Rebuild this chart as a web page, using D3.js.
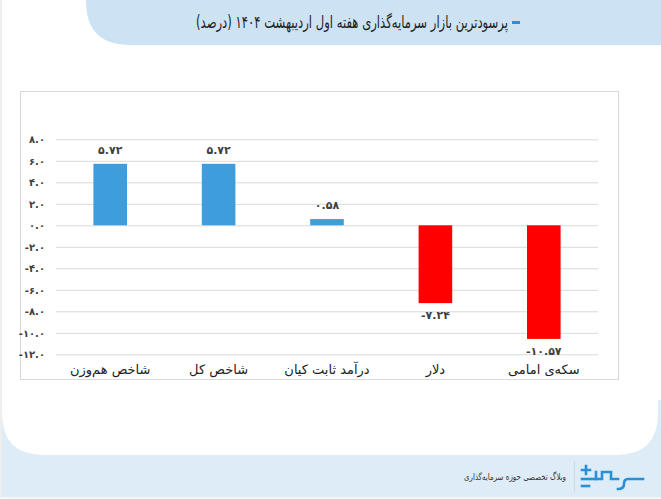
<!DOCTYPE html>
<html><head><meta charset="utf-8">
<script src="https://cdn.jsdelivr.net/npm/d3@7"></script>
<style>
html,body{margin:0;padding:0;background:#fff;}
svg{display:block;}
text{font-family:"DejaVu Sans","Noto Sans",sans-serif;}
</style></head>
<body>
<svg id="c" width="661" height="499"></svg>
<script>
const categories = ["شاخص هم‌وزن", "شاخص کل", "درآمد ثابت کیان", "دلار", "سکه‌ی امامی"];
const values = [5.72, 5.72, 0.58, -7.24, -10.57];
const yTicks = [8, 6, 4, 2, 0, -2, -4, -6, -8, -10, -12];
const title = "پرسودترین بازار سرمایه‌گذاری هفته اول اردیبهشت ۱۴۰۴ (درصد)";
const footerText = "وبلاگ تخصصی حوزه سرمایه‌گذاری";

const fa = s => String(s).replace(/[\u2212]/g,"-").replace(/[0-9]/g, d => "۰۱۲۳۴۵۶۷۸۹"[+d]);
const svg = d3.select("#c");

// footer background + white card
svg.append("rect").attr("x",0).attr("y",400).attr("width",661).attr("height",97).attr("fill","#deecf8");
svg.append("path").attr("fill","#fff")
  .attr("d","M2,0 H658 V413 Q658,455 616,455 H44 Q2,455 2,413 Z");
svg.append("rect").attr("x",0).attr("y",0).attr("width",2).attr("height",497).attr("fill","#eeeeee");
svg.append("rect").attr("x",0).attr("y",497).attr("width",661).attr("height",2).attr("fill","#f6f6f6");

// title band
svg.append("path").attr("fill","#cde3f4")
  .attr("d","M86,0 H661 V45 H130 Q86,45 86,1 Z");
svg.append("rect").attr("x",512).attr("y",21).attr("width",8).attr("height",3).attr("fill","#2b8fd6");
svg.append("text").attr("x",508).attr("y",28)
  .attr("direction","rtl").style("unicode-bidi","embed")
  .attr("text-anchor","start").attr("font-size",17).attr("fill","#222")
  .attr("textLength",312).attr("lengthAdjust","spacingAndGlyphs")
  .text(title);

// chart frame
svg.append("rect").attr("x",20.5).attr("y",91.5).attr("width",598).attr("height",288)
  .attr("fill","#fff").attr("stroke","#d9d9d9");

const x = d3.scaleBand().domain(categories).range([56,598]).paddingInner(0.69).paddingOuter(0.345);
const y = d3.scaleLinear().domain([-12,8]).range([354.3,139.3]);

// gridlines
const gAxis = d3.axisLeft(y).tickValues(yTicks).tickSize(-(598-56)).tickFormat(d => fa(d3.format(".1f")(d)));
const ga = svg.append("g").attr("transform","translate(56,0)").call(gAxis);
ga.select(".domain").remove();
ga.selectAll(".tick line").attr("stroke","#d9d9d9").attr("stroke-width",1);
ga.selectAll(".tick text").attr("x",-11).attr("font-size",10).attr("font-weight","bold").attr("fill","#404040")
  .style("font-family","DejaVu Sans, sans-serif");

// bars
svg.append("g").selectAll("rect").data(values).join("rect")
  .attr("x",(d,i)=>x(categories[i]))
  .attr("width",x.bandwidth())
  .attr("y",d=>y(Math.max(0,d)))
  .attr("height",d=>Math.abs(y(d)-y(0)))
  .attr("fill",d=>d>=0?"#3e9ddc":"#ff0000");

// value labels
svg.append("g").selectAll("text").data(values).join("text")
  .attr("x",(d,i)=>x(categories[i])+x.bandwidth()/2)
  .attr("y",d=>d>=0?y(d)-10:y(d)+16)
  .attr("text-anchor","middle").attr("font-size",11).attr("font-weight","bold").attr("fill","#404040")
  .text(d=>fa(d3.format(".2f")(d)));

// category labels
const xa = svg.append("g").attr("transform","translate(0,354.3)").call(d3.axisBottom(x).tickSize(0).tickPadding(0));
xa.select(".domain").remove();
xa.selectAll(".tick text").attr("dy",0).attr("y",20).attr("font-size",13).attr("fill","#222")
  .style("font-family","DejaVu Sans, sans-serif");

// footer
svg.append("line").attr("x1",574.5).attr("x2",574.5).attr("y1",461).attr("y2",492).attr("stroke","#c9d9e6");
svg.append("text").attr("x",566).attr("y",480).attr("direction","rtl").style("unicode-bidi","embed")
  .attr("text-anchor","start").attr("font-size",9).attr("fill","#333")
  .attr("textLength",102).attr("lengthAdjust","spacingAndGlyphs").text(footerText);
const logo = svg.append("g").attr("fill","none").attr("stroke","#2b8fd6").attr("stroke-width",2.6).attr("stroke-linecap","square");
logo.append("path").attr("d","M643,479 H628 Q624,479 624,484 Q624,489 618,489");
logo.append("path").attr("d","M618,479 H611 V472 H602 V479 H596 V472");
logo.append("path").attr("d","M596,479 H582");
logo.append("path").attr("d","M586,466 V474 M582,470 H590");
logo.append("path").attr("d","M582,486 H589");
</script>
</body></html>
